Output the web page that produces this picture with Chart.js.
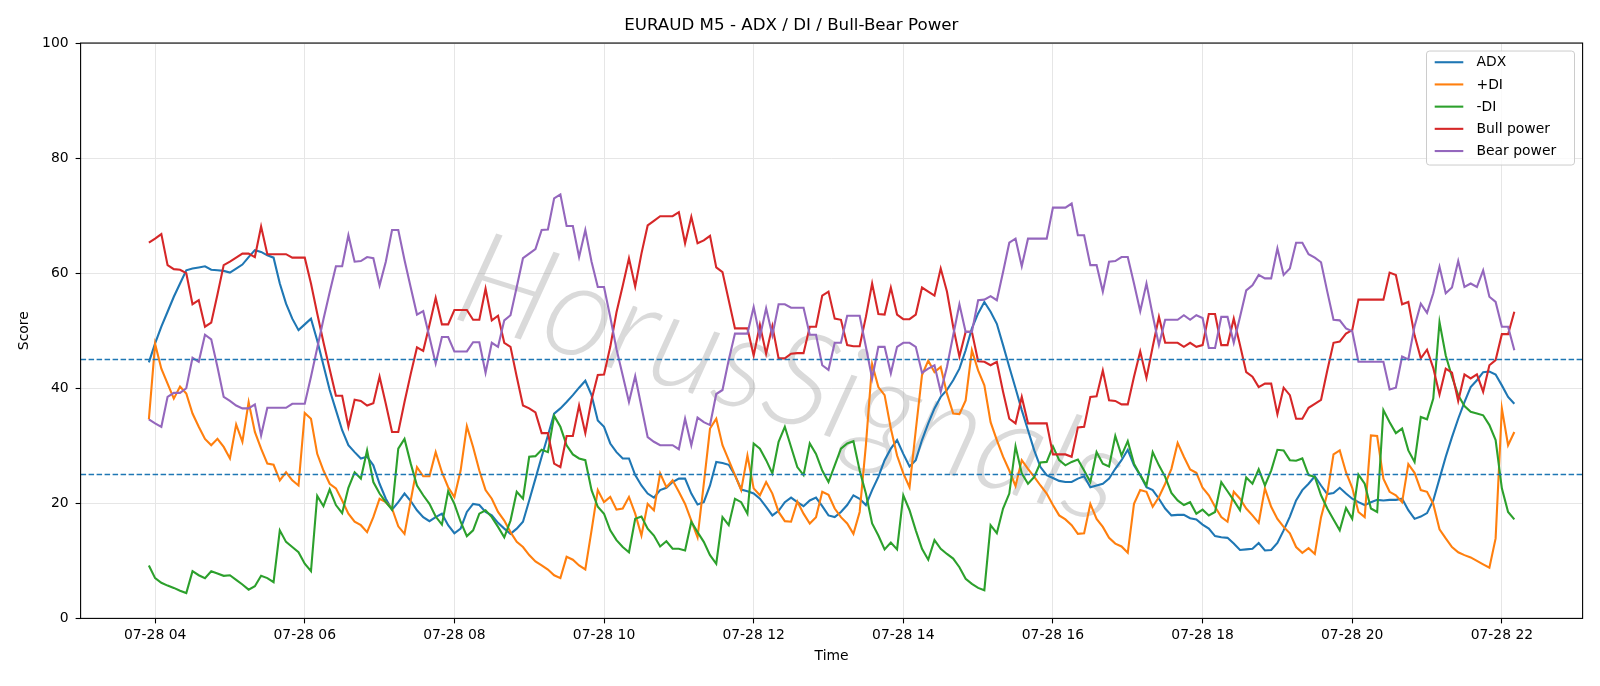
<!DOCTYPE html>
<html><head><meta charset="utf-8">
<script src="https://cdn.jsdelivr.net/npm/chart.js@4.4.0/dist/chart.umd.min.js"></script>
<style>html,body{margin:0;padding:0;background:#fff;}#wrap{width:1600px;height:686px;}</style>
</head><body><div id="wrap"><canvas id="c" width="1600" height="686"></canvas></div>
<script>
// ---- data (07-28, M5 bars starting 03:55) ----
const startHour = 3 + 55 / 60;
const stepMinutes = 5;

const adx = [44.5,47.8,50.7,53.3,55.9,58.2,60.5,60.8,61.0,61.2,60.6,60.5,60.4,60.1,60.8,61.5,62.8,64.0,63.7,63.1,
62.7,58.2,54.7,52.1,50.1,51.1,52.1,48.3,44.0,39.7,36.2,32.7,30.1,28.9,27.8,28.1,26.6,23.4,20.8,18.9,
20.2,21.7,20.4,18.8,17.6,16.9,17.6,18.2,16.2,14.8,15.6,18.5,19.9,19.7,18.5,17.9,16.6,15.6,14.7,15.6,
16.8,20.5,24.3,28.1,31.8,35.6,36.5,37.6,38.8,40.1,41.3,38.8,34.4,33.3,30.4,28.9,27.8,27.8,24.9,23.1,
21.7,21.0,22.3,22.7,23.7,24.3,24.3,21.7,19.8,20.2,23.1,27.2,27.0,26.7,24.9,22.4,22.1,21.7,20.8,19.4,
17.9,18.7,20.2,21.0,20.2,19.5,20.5,21.0,19.5,17.9,17.6,18.5,19.7,21.4,20.8,19.7,22.3,24.6,27.5,29.5,
31.0,28.6,26.4,27.5,31.0,33.9,36.5,38.5,39.7,41.4,43.4,46.6,50.4,53.0,55.0,53.3,51.2,47.5,43.7,40.0,
36.2,32.7,29.2,26.3,24.9,24.4,23.9,23.7,23.7,24.3,24.7,22.8,23.1,23.4,24.3,26.0,27.5,29.3,26.6,24.9,
22.8,22.3,20.8,19.1,17.9,18.0,18.0,17.4,17.2,16.3,15.6,14.3,14.1,14.0,13.0,11.9,12.0,12.1,13.1,11.8,
11.9,13.1,15.3,17.7,20.5,22.3,23.4,24.7,23.1,21.6,21.8,22.7,21.7,20.8,20.2,19.7,20.2,20.6,20.5,20.6,
20.6,20.8,18.8,17.3,17.7,18.3,20.5,24.3,28.1,31.5,34.7,37.6,40.2,41.4,42.8,42.9,42.4,40.5,38.5,37.3];

const plusDI = [34.6,47.7,43.4,40.8,38.2,40.3,39.1,35.6,33.3,31.2,30.1,31.2,29.8,27.8,33.7,30.7,37.6,32.4,29.5,26.9,
26.7,24.0,25.4,24.0,23.1,35.7,34.7,28.6,25.7,23.4,22.6,20.5,18.2,16.8,16.2,15.0,17.6,20.8,20.2,19.1,
16.0,14.7,20.5,26.3,24.7,24.7,28.9,25.4,22.8,21.1,25.7,33.4,29.8,25.7,22.3,20.8,18.5,17.0,15.0,13.3,
12.4,11.0,9.9,9.2,8.5,7.5,7.0,10.7,10.2,9.2,8.5,15.3,22.3,20.2,21.1,18.9,19.1,21.1,18.2,14.4,
19.9,18.8,25.2,22.8,24.0,22.0,19.9,17.0,14.1,23.4,33.0,34.7,30.1,27.5,24.9,22.3,28.3,22.6,21.4,23.7,
21.7,18.5,16.9,16.8,20.3,18.2,16.5,17.6,22.0,21.5,19.1,17.6,16.5,14.7,18.5,30.1,44.2,40.2,38.8,33.0,
28.3,25.2,22.8,32.7,42.3,44.8,42.8,43.7,39.1,35.6,35.5,37.9,46.6,43.1,40.5,34.1,31.0,28.1,25.7,23.0,
27.5,26.0,24.6,23.1,21.7,19.7,17.9,17.2,16.2,14.7,14.8,19.9,17.3,15.9,14.0,13.0,12.5,11.4,19.9,22.3,
22.0,19.4,21.1,23.4,26.0,30.5,28.1,25.9,25.3,22.7,21.4,19.4,17.6,16.8,22.0,20.8,19.1,17.9,16.6,22.6,
19.4,17.3,15.9,14.8,12.4,11.4,12.2,11.2,17.6,21.7,28.5,29.2,25.4,22.7,18.5,17.6,31.8,31.7,24.3,22.0,
21.4,20.2,26.8,25.3,22.3,22.0,19.9,15.5,13.9,12.4,11.5,11.0,10.6,10.0,9.4,8.8,13.9,36.5,30.1,32.4];

const minusDI = [9.2,7.0,6.2,5.7,5.3,4.8,4.4,8.2,7.5,7.0,8.2,7.8,7.4,7.5,6.7,5.9,5.0,5.6,7.4,7.0,
6.3,15.3,13.3,12.4,11.5,9.5,8.2,21.3,19.5,22.4,19.7,18.3,22.7,25.4,24.3,29.2,23.7,21.7,20.2,18.9,
29.5,31.2,26.9,23.1,21.4,19.9,17.7,16.3,22.1,19.9,16.8,14.3,15.3,18.2,18.8,17.6,15.9,14.1,17.0,22.0,
20.8,28.1,28.2,29.3,28.9,35.2,33.3,30.1,28.5,27.8,27.5,22.3,19.4,18.2,15.3,13.6,12.4,11.5,17.3,17.7,
15.6,14.4,12.5,13.4,12.1,12.1,11.8,16.8,15.0,13.3,11.0,9.5,17.6,16.2,20.8,20.2,18.2,30.4,29.5,27.5,
25.2,30.7,33.3,29.8,26.3,24.9,30.4,28.6,25.7,23.7,26.6,29.5,30.4,30.8,25.7,21.7,16.5,14.4,12.0,13.2,
12.0,21.4,18.8,15.3,12.1,10.2,13.6,12.1,11.2,10.4,8.9,6.9,6.0,5.3,4.9,16.2,14.8,19.1,21.7,29.9,
25.2,23.4,24.6,27.1,27.2,29.9,27.5,26.6,27.2,27.6,25.7,23.7,28.9,26.9,26.4,31.7,28.3,30.8,26.9,24.9,
23.1,28.9,26.6,24.6,21.8,20.5,19.7,20.2,18.2,18.9,17.9,18.5,23.7,22.1,20.5,18.8,24.5,23.4,25.9,23.1,
25.7,29.3,29.2,27.5,27.4,27.8,24.9,24.6,21.4,19.1,17.2,15.3,19.2,17.3,25.0,23.4,19.1,18.5,36.2,34.1,
32.2,33.0,29.2,27.2,35.0,34.6,38.2,51.5,45.7,42.0,38.8,36.9,35.9,35.6,35.3,33.6,31.0,22.6,18.5,17.2];

const bullPower = [65.3,66.0,66.8,61.4,60.7,60.6,60.0,54.6,55.3,50.7,51.4,56.3,61.4,62.0,62.7,63.4,63.4,62.8,68.1,63.3,
63.3,63.3,63.3,62.7,62.7,62.7,58.2,53.0,48.0,43.3,38.7,38.7,33.3,38.0,37.8,37.0,37.4,42.0,37.3,32.4,
32.4,37.6,42.5,47.1,46.5,51.0,55.7,51.1,51.1,53.6,53.6,53.6,51.9,51.9,57.3,51.8,52.6,47.9,47.2,42.0,
37.0,36.5,35.8,32.2,32.2,26.9,26.3,31.7,31.7,37.0,32.2,38.0,42.3,42.4,47.2,53.2,57.8,62.6,57.7,63.4,
68.3,69.1,69.9,69.9,69.9,70.6,65.2,69.8,65.2,65.7,66.5,61.0,60.2,55.3,50.4,50.4,50.4,45.7,51.0,46.0,
50.8,45.2,45.2,46.0,46.1,46.1,50.7,50.7,56.1,56.8,52.1,51.9,47.5,47.3,47.3,52.4,58.2,52.9,52.8,57.5,
52.8,52.0,52.0,52.8,57.5,56.8,56.1,60.8,56.8,50.7,45.5,49.8,49.8,44.7,44.6,44.0,44.6,39.4,34.7,33.9,
38.5,33.9,33.9,33.9,33.9,28.5,28.5,28.5,28.1,33.2,33.3,38.5,38.6,43.1,37.9,37.8,37.2,37.2,42.0,46.4,
41.8,47.2,52.4,47.9,47.9,47.9,47.2,47.9,47.2,47.5,52.9,52.9,47.5,47.5,52.1,47.5,42.8,42.0,40.2,40.8,
40.8,35.5,40.1,38.8,34.7,34.7,36.6,37.3,38.0,43.1,47.9,48.1,49.5,50.1,55.4,55.4,55.4,55.4,55.4,60.1,
59.7,54.6,55.0,49.2,45.2,46.7,43.5,38.9,43.4,42.7,37.8,42.4,41.7,42.4,39.4,44.0,44.9,49.4,49.4,53.3];

const bearPower = [34.6,33.9,33.3,38.5,39.2,39.2,40.0,45.3,44.6,49.3,48.5,43.7,38.5,37.8,37.0,36.5,36.5,37.2,31.8,36.6,
36.6,36.6,36.6,37.3,37.3,37.3,42.0,47.0,52.0,56.7,61.2,61.2,66.6,62.0,62.1,62.8,62.6,57.9,62.0,67.5,
67.5,62.3,57.5,52.8,53.4,48.9,44.3,48.9,48.9,46.4,46.4,46.4,48.0,48.0,42.7,47.9,47.2,51.8,52.7,57.6,
62.6,63.4,64.2,67.5,67.6,73.0,73.7,68.2,68.2,62.8,67.5,62.0,57.6,57.6,52.4,46.8,42.2,37.6,42.1,36.8,
31.5,30.7,30.1,30.1,30.1,29.4,34.7,30.1,34.9,34.1,33.6,39.0,39.7,44.9,49.5,49.5,49.5,54.1,48.9,53.9,
49.2,54.6,54.6,54.0,54.0,54.0,49.3,49.3,44.0,43.2,47.9,47.9,52.6,52.6,52.6,47.2,41.7,47.2,47.2,42.6,
47.2,47.9,47.9,47.2,42.7,43.4,44.0,39.4,43.7,49.2,54.6,49.8,49.8,55.3,55.4,56.0,55.3,60.2,65.3,66.0,
61.2,66.0,66.0,66.0,66.0,71.4,71.4,71.4,72.1,66.6,66.6,61.4,61.4,56.8,62.0,62.1,62.8,62.8,58.2,53.4,
58.2,52.7,47.5,51.9,51.9,51.9,52.7,51.9,52.7,52.2,47.0,47.0,52.4,52.4,47.9,52.4,57.0,57.9,59.7,59.1,
59.1,64.3,59.7,60.8,65.3,65.3,63.3,62.7,61.9,56.8,51.9,51.8,50.4,49.9,44.6,44.6,44.6,44.6,44.6,39.8,
40.1,45.5,45.0,50.8,54.7,53.1,56.5,61.1,56.5,57.5,62.1,57.6,58.2,57.6,60.5,55.9,55.0,50.7,50.7,46.6];

const seriesNames = ['ADX', '+DI', '-DI', 'Bull power', 'Bear power'];
const seriesColors = ['#1f77b4', '#ff7f0e', '#2ca02c', '#d62728', '#9467bd'];
const xTickHours = [4, 6, 8, 10, 12, 14, 16, 18, 20, 22];
const yTickValues = [0, 20, 40, 60, 80, 100];
const refLevels = [25, 45];
const dateLabel = '07-28';
const watermarkText = 'HorusSignals';

// ---- build ----
const times = adx.map((_, i) => startHour + i * stepMinutes / 60);
const span = times[times.length - 1] - times[0];
const xMin = times[0] - 0.05 * span;
const xMax = times[times.length - 1] + 0.05 * span;
const toPts = arr => arr.map((v, i) => ({ x: times[i], y: v }));
const allSeries = [adx, plusDI, minusDI, bullPower, bearPower];

const datasets = allSeries.map((arr, k) => ({
  label: seriesNames[k], data: toPts(arr), borderColor: seriesColors[k], backgroundColor: seriesColors[k],
  borderWidth: 2.1, pointRadius: 0, tension: 0, fill: false, order: 10 - k
}));
refLevels.forEach(lv => datasets.push({
  label: 'ref' + lv, data: [{ x: xMin, y: lv }, { x: xMax, y: lv }], borderColor: '#1f77b4',
  borderWidth: 1.4, borderDash: [5.5, 2.5], pointRadius: 0, fill: false, order: 0
}));

const FONT = '"DejaVu Sans", sans-serif';

const framePlugin = {
  id: 'frame',
  beforeDatasetsDraw(chart) {
    const { ctx, chartArea: a } = chart;
    ctx.save();
    ctx.beginPath(); ctx.rect(a.left, a.top, a.right - a.left, a.bottom - a.top); ctx.clip();
    ctx.translate(791, 380);
    ctx.rotate(17.5 * Math.PI / 180);
    const wmFont = s => 'italic 300 ' + s + 'px Lato, Roboto, sans-serif';
    ctx.font = wmFont(100);
    const w = ctx.measureText(watermarkText).width;
    const size = 100 * 690 / w;
    ctx.font = wmFont(size.toFixed(1));
    ctx.textAlign = 'center'; ctx.textBaseline = 'middle';
    ctx.fillStyle = 'rgba(140,140,140,0.32)';
    ctx.fillText(watermarkText, 0, 0);
    ctx.restore();
  },
  afterDatasetsDraw(chart) {
    const { ctx, chartArea: a } = chart;
    ctx.save();
    ctx.strokeStyle = '#000'; ctx.lineWidth = 1.1;
    ctx.strokeRect(a.left, a.top, a.right - a.left, a.bottom - a.top);
    // legend
    const bw = 148, bh = 114;
    const bx = a.right - 8.1 - bw, by = a.top + 8;
    ctx.fillStyle = 'rgba(255,255,255,0.8)';
    ctx.strokeStyle = '#cccccc'; ctx.lineWidth = 1;
    ctx.beginPath();
    if (ctx.roundRect) ctx.roundRect(bx, by, bw, bh, 3); else ctx.rect(bx, by, bw, bh);
    ctx.fill(); ctx.stroke();
    ctx.font = '13.9px ' + FONT; ctx.textBaseline = 'middle'; ctx.textAlign = 'left';
    chart.data.datasets.slice(0, seriesNames.length).forEach((ds, k) => {
      const y = by + 11.2 + k * 22.2;
      ctx.strokeStyle = ds.borderColor; ctx.lineWidth = 2.1;
      ctx.beginPath(); ctx.moveTo(bx + 8.2, y); ctx.lineTo(bx + 36.8, y); ctx.stroke();
      ctx.fillStyle = '#000';
      ctx.fillText(ds.label, bx + 50, y + 0.5);
    });
    ctx.restore();
  }
};

new Chart(document.getElementById('c'), {
  type: 'line',
  data: { datasets },
  plugins: [framePlugin],
  options: {
    responsive: false, animation: false, devicePixelRatio: 1,
    layout: { padding: { left: 0, right: 17.4, top: 0, bottom: 0 } },
    plugins: {
      legend: { display: false },
      tooltip: { enabled: false },
      title: { display: true, text: 'EURAUD M5 - ADX / DI / Bull-Bear Power', color: '#000',
        font: { family: FONT, size: 16.7, weight: 'normal' }, padding: { top: 16, bottom: 7 } }
    },
    scales: {
      x: {
        type: 'linear', min: xMin, max: xMax,
        afterFit(s) { s.height = 67.6; },
        afterBuildTicks(s) { s.ticks = xTickHours.map(v => ({ value: v })); },
        ticks: { autoSkip: false, maxRotation: 0, color: '#000', padding: 4,
          font: { family: FONT, size: 13.9 },
          callback: v => dateLabel + ' ' + String(v).padStart(2, '0') },
        grid: { color: '#e6e6e6', lineWidth: 1, tickColor: '#000', tickLength: 5, tickWidth: 1.1 },
        border: { display: false },
        title: { display: true, text: 'Time', color: '#000', font: { family: FONT, size: 13.9 },
          padding: { top: 0, bottom: 21.7 } }
      },
      y: {
        min: 0, max: 100,
        afterFit(s) { s.width = 80.6; },
        afterBuildTicks(s) { s.ticks = yTickValues.map(v => ({ value: v })); },
        ticks: { color: '#000', padding: 7, font: { family: FONT, size: 13.9 } },
        grid: { color: '#e6e6e6', lineWidth: 1, tickColor: '#000', tickLength: 5, tickWidth: 1.1 },
        border: { display: false },
        title: { display: true, text: 'Score', color: '#000', font: { family: FONT, size: 13.9 },
          padding: { top: 16.2, bottom: 0 } }
      }
    }
  }
});
</script></body></html>
